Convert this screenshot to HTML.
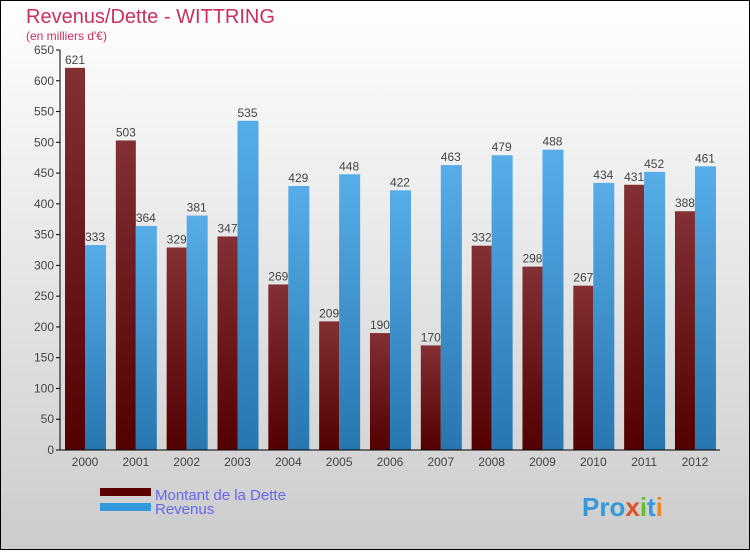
<!DOCTYPE html>
<html><head><meta charset="utf-8"><style>
body{margin:0;width:750px;height:550px;overflow:hidden;font-family:"Liberation Sans",sans-serif}
</style></head><body>
<svg width="750" height="550" xmlns="http://www.w3.org/2000/svg">
<defs>
<linearGradient id="bg" x1="0" y1="0" x2="0" y2="1"><stop offset="0" stop-color="#ffffff"/><stop offset="1" stop-color="#cccccc"/></linearGradient>
<linearGradient id="gr" x1="0" y1="0" x2="0" y2="1"><stop offset="0" stop-color="#833035"/><stop offset="1" stop-color="#520000"/></linearGradient>
<linearGradient id="gb" x1="0" y1="0" x2="0" y2="1"><stop offset="0" stop-color="#56ade8"/><stop offset="1" stop-color="#2776b0"/></linearGradient>
</defs>
<rect x="0.5" y="0.5" width="749" height="549" fill="url(#bg)" stroke="#000"/>
<text x="26" y="23" font-size="20" fill="#c8305f">Revenus/Dette - WITTRING</text>
<text x="26" y="40" font-size="12" fill="#c8305f">(en milliers d'€)</text>
<g id="bars"></g><g id="axes"></g>
<rect x="100" y="488" width="51" height="8" fill="#5a0000"/>
<rect x="100" y="503" width="51" height="8" fill="#3399dd"/>
<text x="155" y="500" font-size="15" fill="#6666ee">Montant de la Dette</text>
<text x="155" y="514" font-size="15" fill="#6666ee">Revenus</text>
<text x="582" y="516" font-size="26" font-weight="bold" fill="#3399dd">Pro<tspan fill="#e05020">x</tspan><tspan fill="#66bb33">i</tspan>t<tspan fill="#ee8822">i</tspan></text>
</svg>
<script>
const years=["2000","2001","2002","2003","2004","2005","2006","2007","2008","2009","2010","2011","2012"];
const dette=[621,503,329,347,269,209,190,170,332,298,267,431,388];
const revenus=[333,364,381,535,429,448,422,463,479,488,434,452,461];
const yTicks=[0,50,100,150,200,250,300,350,400,450,500,550,600,650];
const NS="http://www.w3.org/2000/svg";
const y=v=>450-v*400/650, cx=i=>85+i*50.83;
function mk(p,t,a){const e=document.createElementNS(NS,t);for(const k in a)e.setAttribute(k,a[k]);p.appendChild(e);return e;}
const b=document.getElementById('bars'),ax=document.getElementById('axes');
yTicks.forEach(v=>{
 const t=mk(ax,'line',{x1:56,x2:60,y1:y(v),y2:y(v),stroke:'#000'});
 
 
 const tx=mk(ax,'text',{x:54,y:y(v)+4,'font-size':12,fill:'#444','text-anchor':'end'});tx.textContent=v;
 
 
});
years.forEach((yr,i)=>{
 const c=cx(i);
 const r=mk(b,'rect',{x:c-20,y:y(dette[i]),width:20,height:450-y(dette[i]),fill:'url(#gr)'});
 
 
 const r2=mk(b,'rect',{x:c,y:y(revenus[i]),width:21,height:450-y(revenus[i]),fill:'url(#gb)'});
 
 
 const t1=mk(b,'text',{x:c-10,y:y(dette[i])-4,'font-size':12,fill:'#444','text-anchor':'middle'});t1.textContent=dette[i];
 
 
 const t2=mk(b,'text',{x:c+10,y:y(revenus[i])-4,'font-size':12,fill:'#444','text-anchor':'middle'});t2.textContent=revenus[i];
 
 
 const xl=mk(ax,'text',{x:c,y:466,'font-size':12,fill:'#444','text-anchor':'middle'});xl.textContent=yr;
 
 
});
const ya=mk(ax,'line',{x1:60,x2:60,y1:50,y2:450,stroke:'#000'});


const xa=mk(ax,'line',{x1:60,x2:720,y1:450,y2:450,stroke:'#000'});


</script>
</body></html>
